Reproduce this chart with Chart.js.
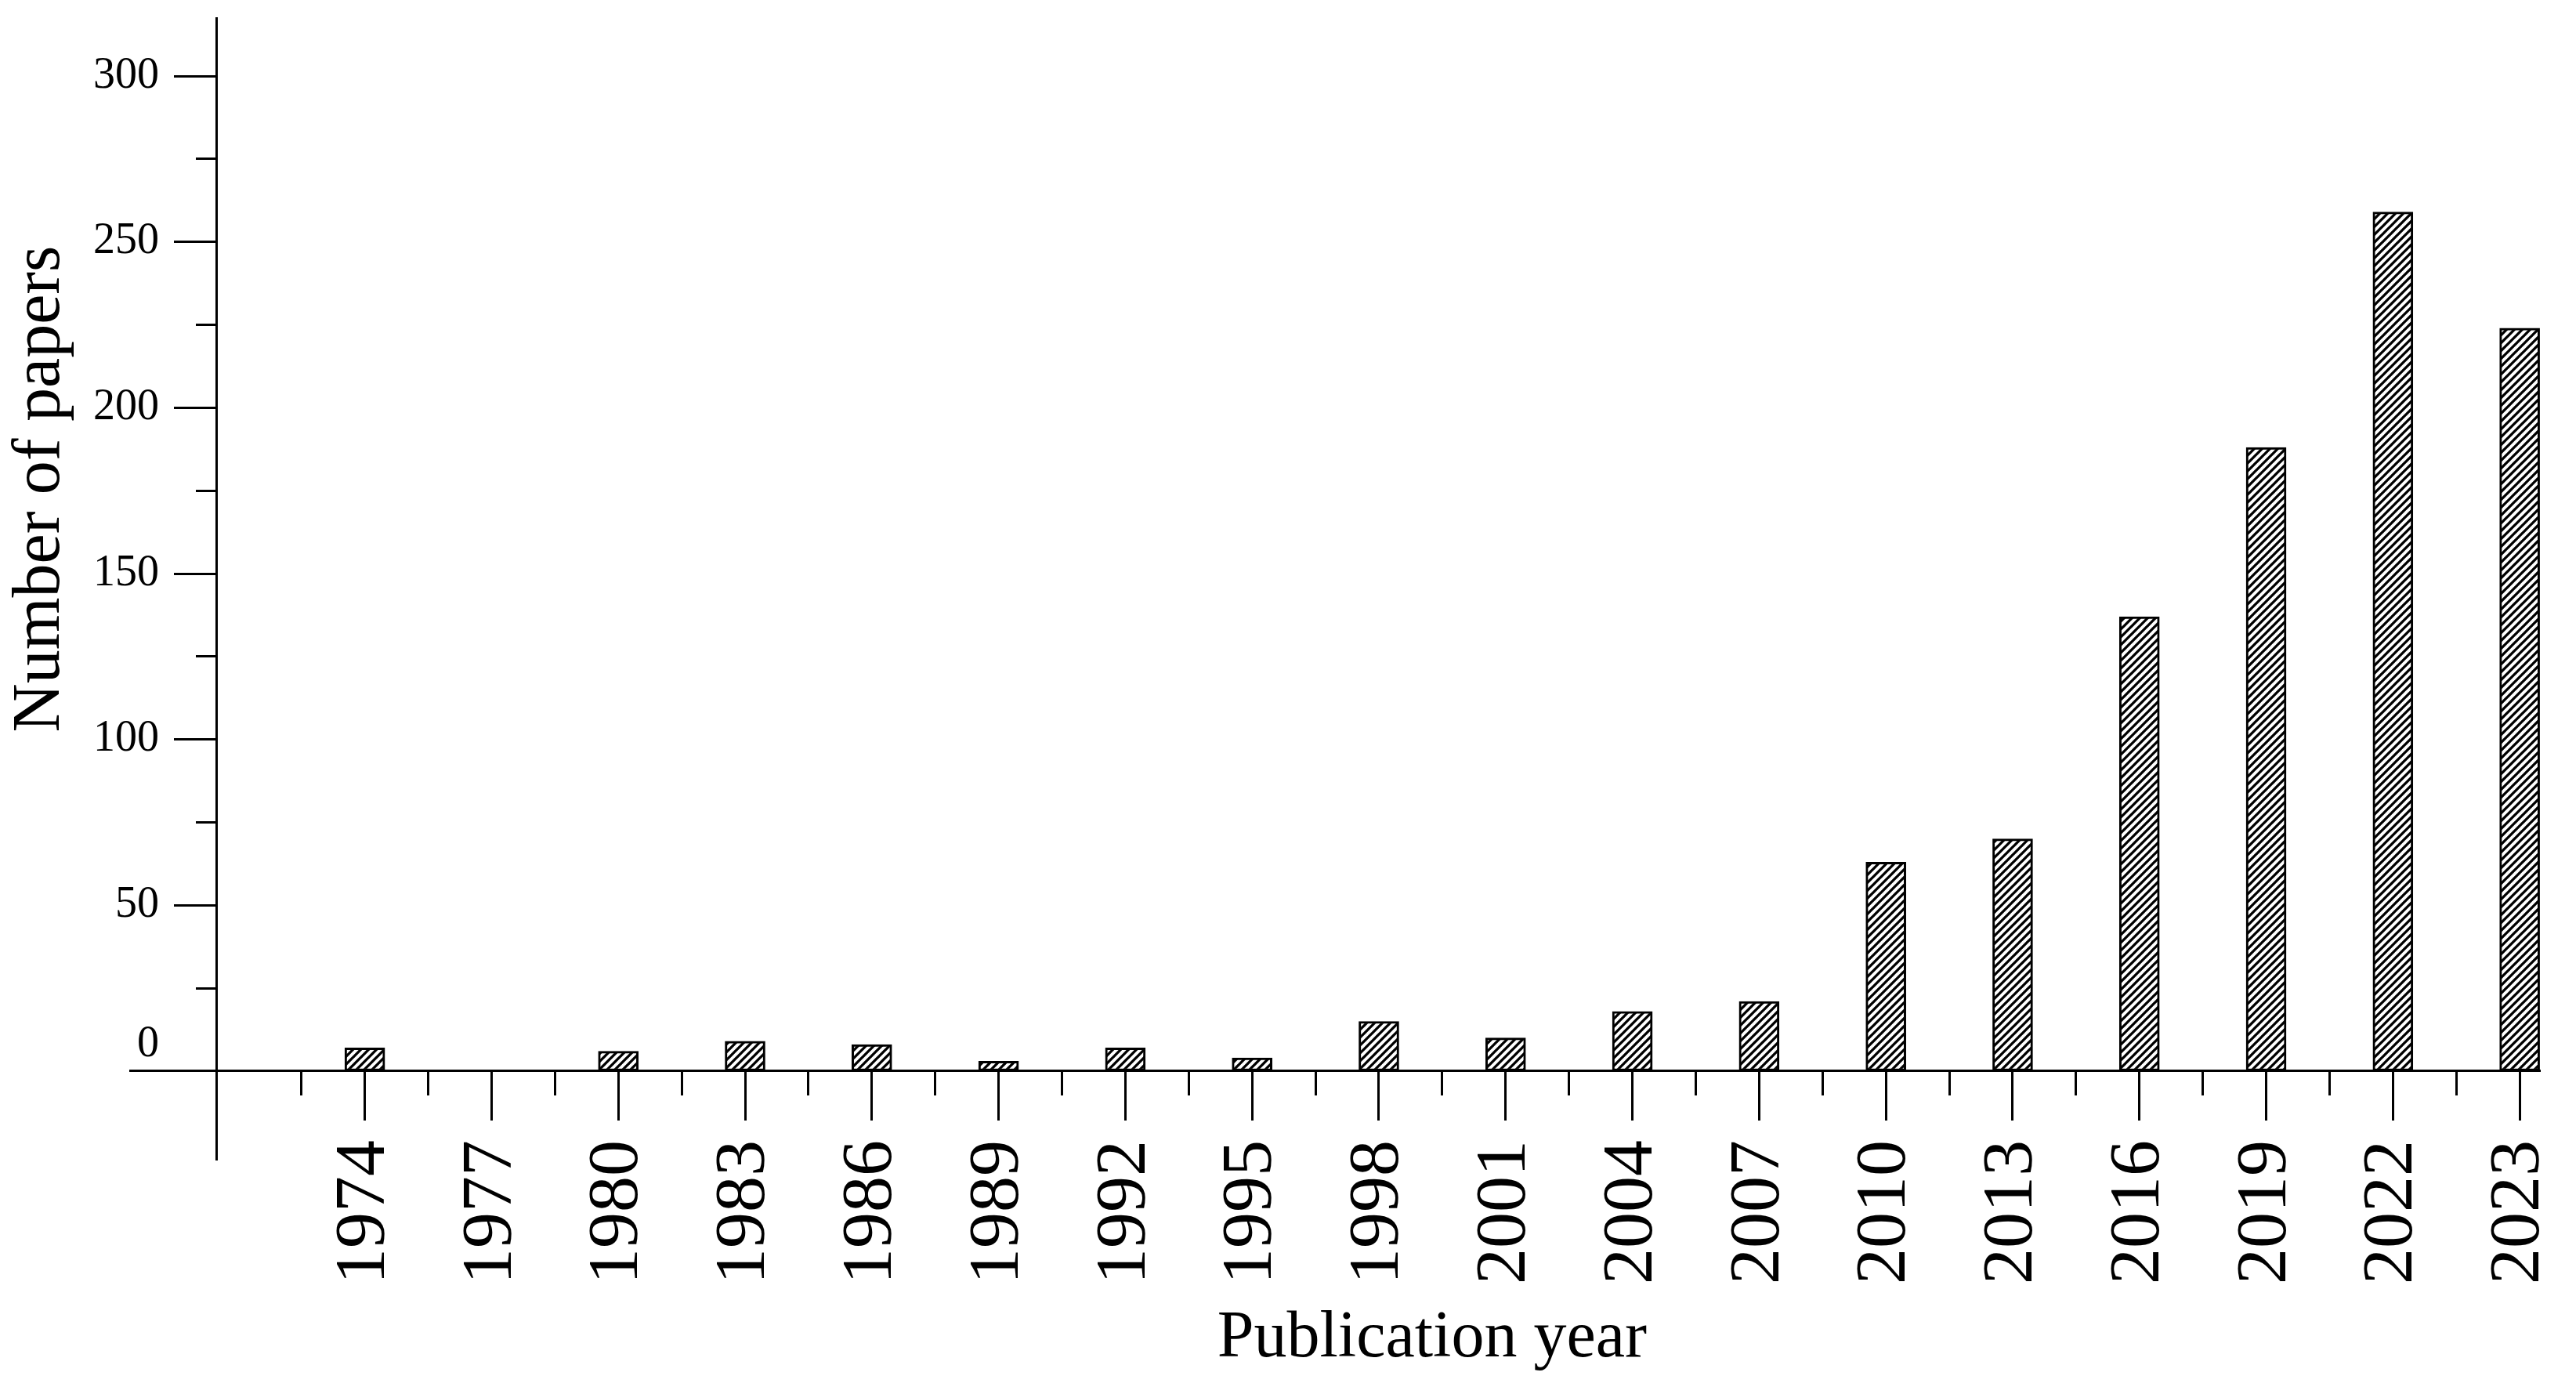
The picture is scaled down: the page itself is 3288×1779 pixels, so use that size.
<!DOCTYPE html>
<html>
<head>
<meta charset="utf-8">
<title>Number of papers by publication year</title>
<script src="https://cdn.jsdelivr.net/npm/chart.js@4.4.1/dist/chart.umd.min.js"></script>
<style>
  html, body { margin: 0; padding: 0; background: #fff; }
  #wrap { width: 3288px; height: 1779px; position: relative; }
</style>
</head>
<body>
<div id="wrap"><canvas id="papers"></canvas></div>
<script>
const years = ['1974', '1977', '1980', '1983', '1986', '1989', '1992', '1995', '1998',
               '2001', '2004', '2007', '2010', '2013', '2016', '2019', '2022', '2023'];
const papers = [7, 0, 6, 9, 8, 3, 7, 4, 15, 10, 18, 21, 63, 70, 137, 188, 259, 224];
const yMajor = [0, 50, 100, 150, 200, 250, 300];
const yMinor = [25, 75, 125, 175, 225, 275];

const serif = '"Liberation Serif", "Times New Roman", serif';

// axis ranges (x is in category units, 0 = first year)
const yMin = -26.7, yMax = 317.5;
const xMin = -1.852, xMax = 17.16;
const yAxisAt = -1.172;   // where the vertical axis crosses the x scale

// diagonal "/" hatching for the bars
function hatch() {
  const c = document.createElement('canvas');
  c.width = c.height = 10;
  const g = c.getContext('2d');
  g.fillStyle = '#fff';
  g.fillRect(0, 0, 10, 10);
  g.strokeStyle = '#000';
  g.lineWidth = 3.3;
  g.beginPath();
  g.moveTo(-2, 12); g.lineTo(12, -2);
  g.moveTo(-2, 2); g.lineTo(2, -2);
  g.moveTo(8, 12); g.lineTo(12, 8);
  g.stroke();
  return g.createPattern(c, 'repeat');
}

// axis titles and the raised "0" label
const extraText = {
  id: 'extraText',
  afterDraw(chart) {
    const {ctx, scales} = chart;
    const y0 = scales.y.getPixelForValue(0);
    ctx.save();
    ctx.fillStyle = '#000';
    ctx.textBaseline = 'middle';

    ctx.font = '56px ' + serif;
    ctx.textAlign = 'right';
    ctx.fillText('0', scales.yl.right + 37, y0 - 34);

    ctx.font = '84px ' + serif;
    ctx.textAlign = 'center';
    ctx.fillText('Publication year', scales.x.getPixelForValue((years.length - 1) / 2) - 13, y0 + 342);

    ctx.font = '86px ' + serif;
    ctx.translate(52, 624);
    ctx.rotate(-Math.PI / 2);
    ctx.fillText('Number of papers', 0, 0);
    ctx.restore();
  }
};

const tickGrid = (len) => ({
  drawOnChartArea: false, offset: false,
  tickLength: len, tickWidth: 3, tickColor: '#000'
});

// rotated year labels should not eat into the plot width
const noPadding = (s) => { s.paddingLeft = 0; s.paddingRight = 0; };

new Chart(document.getElementById('papers'), {
  type: 'bar',
  data: {
    datasets: [{
      label: 'Number of papers',
      data: papers.map((v, i) => ({x: i, y: v})),
      backgroundColor: hatch(),
      borderColor: '#000',
      borderWidth: 3,
      borderSkipped: false,
      barThickness: 51
    }]
  },
  options: {
    responsive: true,
    maintainAspectRatio: false,
    animation: false,
    layout: {padding: {top: 23, right: 46, bottom: 299, left: 0}},
    plugins: {
      legend: {display: false},
      tooltip: {enabled: false}
    },
    scales: {
      x: {
        type: 'linear', axis: 'x', min: xMin, max: xMax, offset: false,
        position: {y: 0},
        afterBuildTicks: (s) => { s.ticks = years.map((_, i) => ({value: i})); },
        afterFit: noPadding,
        grid: tickGrid(62),
        border: {color: '#000', width: 3},
        ticks: {
          autoSkip: false, minRotation: 90, maxRotation: 90, padding: 26,
          color: '#000', font: {family: serif, size: 92},
          callback: (v) => years[v] ?? ''
        }
      },
      xMinor: {
        type: 'linear', axis: 'x', min: xMin, max: xMax, offset: false,
        position: {y: 0},
        afterBuildTicks: (s) => { s.ticks = years.slice(1).map((_, i) => ({value: i + 0.5})); s.ticks.unshift({value: -0.5}); },
        afterFit: noPadding,
        grid: tickGrid(31),
        border: {display: false},
        ticks: {display: false}
      },
      y: {
        type: 'linear', axis: 'y', min: yMin, max: yMax,
        position: {x: yAxisAt},
        afterBuildTicks: (s) => { s.ticks = yMajor.map((v) => ({value: v})); },
        grid: tickGrid(53),
        border: {color: '#000', width: 3},
        ticks: {display: false}
      },
      yMinor: {
        type: 'linear', axis: 'y', min: yMin, max: yMax,
        position: {x: yAxisAt},
        afterBuildTicks: (s) => { s.ticks = yMinor.map((v) => ({value: v})); },
        grid: tickGrid(26),
        border: {display: false},
        ticks: {display: false}
      },
      yl: {
        type: 'linear', axis: 'y', min: yMin, max: yMax,
        position: 'left',
        afterBuildTicks: (s) => { s.ticks = yMajor.filter((v) => v > 0).map((v) => ({value: v})); },
        afterFit: (s) => { s.width = 166; },
        grid: {display: false, drawTicks: false},
        border: {display: false},
        ticks: {mirror: true, crossAlign: 'far', padding: -47, color: '#000', font: {family: serif, size: 56}}
      }
    }
  },
  plugins: [extraText]
});
</script>
</body>
</html>
